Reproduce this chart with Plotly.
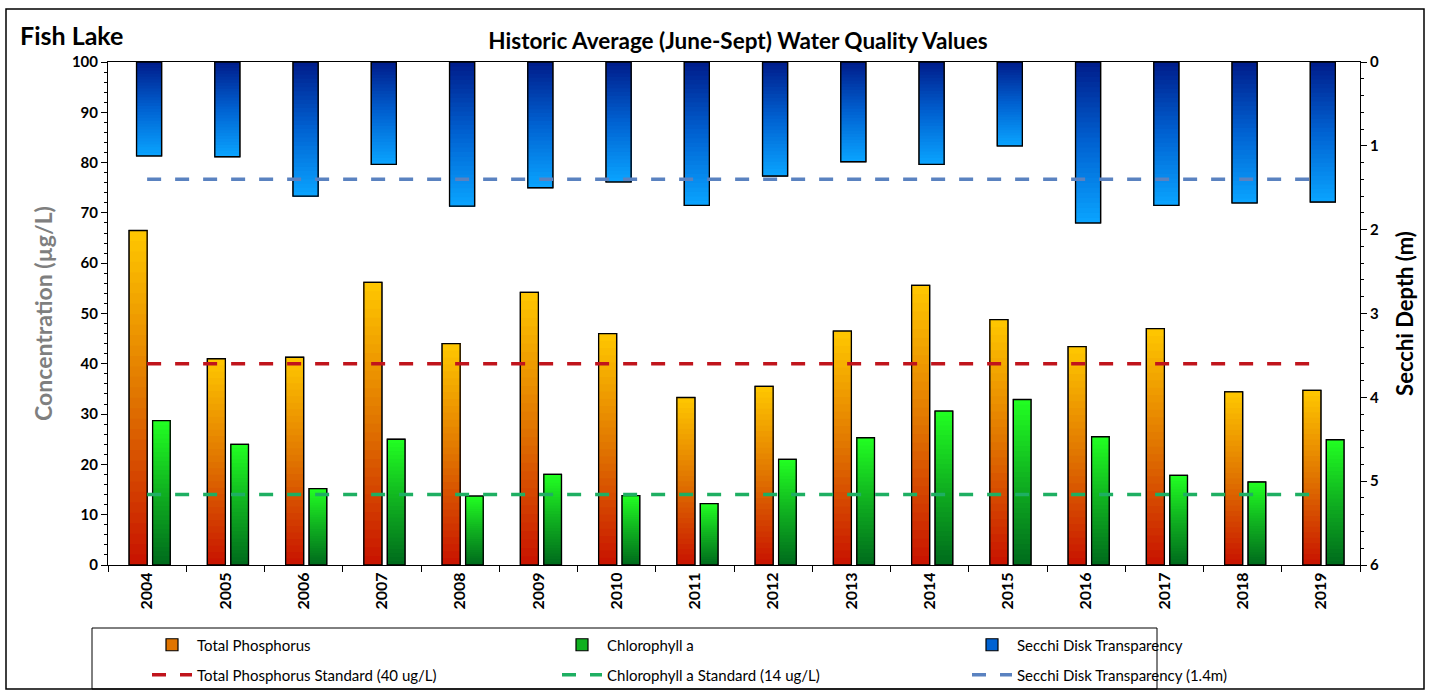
import plotly.graph_objects as go

years = [str(y) for y in range(2004, 2020)]
tp = [66.5, 41.0, 41.3, 56.2, 44.0, 54.2, 46.0, 33.3, 35.5, 46.5, 55.6, 48.8, 43.4, 47.0, 34.4, 34.7]
chla = [28.7, 24.0, 15.2, 25.0, 13.7, 18.0, 13.8, 12.2, 21.0, 25.3, 30.6, 32.9, 25.5, 17.8, 16.5, 24.9]
secchi = [1.12, 1.13, 1.60, 1.22, 1.72, 1.50, 1.43, 1.71, 1.36, 1.19, 1.22, 1.00, 1.92, 1.71, 1.68, 1.67]
tp_std = 40
chla_std = 14
secchi_std = 1.4

FONT = "Lato"
N = 32

def hex2rgb(h):
    h = h.lstrip('#')
    return [int(h[i:i+2], 16) for i in (0, 2, 4)]

def interp(stops, t):
    for (t0, c0), (t1, c1) in zip(stops[:-1], stops[1:]):
        if t0 <= t <= t1:
            a = (t - t0) / (t1 - t0) if t1 > t0 else 0
            r0, r1 = hex2rgb(c0), hex2rgb(c1)
            return 'rgb(%d,%d,%d)' % tuple(round(x + (y - x) * a) for x, y in zip(r0, r1))
    return stops[-1][1]

tp_stops = [(0, '#C81200'), (0.5, '#E07400'), (1, '#FFC800')]
chl_stops = [(0, '#006A1C'), (0.5, '#0FB020'), (1, '#22FF22')]
sec_stops = [(0, '#001C8A'), (0.5, '#0062D2'), (1, '#0AA4FF')]

fig = go.Figure()

def add_series(vals, stops, width, offset, yaxis, name):
    fig.add_trace(go.Bar(x=years, y=vals, width=width, offset=offset, yaxis=yaxis,
                         marker=dict(color=interp(stops, 0.5), line=dict(color='black', width=1.2)),
                         name=name, legend='legend', hoverinfo='skip'))
    for i in range(N):
        f = i / N
        base = [v * f for v in vals]
        yy = [v - b for v, b in zip(vals, base)]
        fig.add_trace(go.Bar(x=years, y=yy, base=base, width=width, offset=offset, yaxis=yaxis,
                             marker=dict(color=interp(stops, (i + 0.5) / N), line=dict(width=0)),
                             showlegend=False, hoverinfo='skip'))
    fig.add_trace(go.Bar(x=years, y=vals, width=width, offset=offset, yaxis=yaxis,
                         marker=dict(color='rgba(0,0,0,0)', line=dict(color='black', width=1.3)),
                         showlegend=False, hoverinfo='skip'))

add_series(tp, tp_stops, 0.23, -0.23, 'y', 'Total Phosphorus')
add_series(chla, chl_stops, 0.225, 0.07, 'y', 'Chlorophyll a')
add_series(secchi, sec_stops, 0.32, -0.135, 'y2', 'Secchi Disk Transparency')

fig.add_trace(go.Scatter(x=years, y=[tp_std] * len(years), mode='lines', yaxis='y',
                         line=dict(color='#C0141C', width=3.5, dash='14px,14px'),
                         name='Total Phosphorus Standard (40 ug/L)', legend='legend2', hoverinfo='skip'))
fig.add_trace(go.Scatter(x=years, y=[chla_std] * len(years), mode='lines', yaxis='y',
                         line=dict(color='#1EAF62', width=3.5, dash='14px,14px'),
                         name='Chlorophyll a Standard (14 ug/L)', legend='legend2', hoverinfo='skip'))
fig.add_trace(go.Scatter(x=years, y=[secchi_std] * len(years), mode='lines', yaxis='y2',
                         line=dict(color='#5A82C0', width=3.5, dash='14px,14px'),
                         name='Secchi Disk Transparency (1.4m)', legend='legend2', hoverinfo='skip'))

W, H = 1432, 692
L, R, T, B = 108, 72, 62, 127
pw, ph = W - L - R, H - T - B

def px(x):
    return (x - L) / pw

def py(y):
    return (H - B - y) / ph

tickfont = dict(family=FONT, size=15, color='black', weight='bold')
legfont = dict(family=FONT, size=15, color='black')

fig.update_layout(
    width=W, height=H,
    margin=dict(l=L, r=R, t=T, b=B, autoexpand=False),
    barmode='overlay',
    plot_bgcolor='white', paper_bgcolor='white',
    font=dict(family=FONT, color='black'),
    title=dict(text='Historic Average (June-Sept) Water Quality Values',
               x=px(738), xref='paper', xanchor='center', y=1 - 41 / H, yanchor='middle',
               font=dict(family=FONT, size=22.5, color='black', weight='bold')),
    xaxis=dict(type='category', range=[-0.5, 15.5], showline=True, linecolor='black', linewidth=1,
               mirror=True, ticks='outside', tickson='boundaries', ticklen=6, tickcolor='black',
               tickangle=-90, tickfont=dict(family=FONT, size=16, color='black', weight='bold'),
               showgrid=False),
    yaxis=dict(range=[0, 100], dtick=10, showline=True, linecolor='black', linewidth=1,
               ticks='outside', ticklen=6, tickcolor='black', showgrid=False, zeroline=False,
               minor=dict(dtick=2, ticks='outside', ticklen=3, tickcolor='black'),
               tickfont=tickfont,
               title=dict(text='Concentration (µg/L)', standoff=12,
                          font=dict(family=FONT, size=23, color='#7F7F7F', weight='bold'))),
    yaxis2=dict(range=[6, 0], dtick=1, overlaying='y', side='right', showline=True,
                linecolor='black', linewidth=1, ticks='outside', ticklen=6, tickcolor='black',
                showgrid=False, zeroline=False,
                minor=dict(dtick=0.2, ticks='outside', ticklen=3, tickcolor='black'),
                tickfont=tickfont,
                title=dict(text='Secchi Depth (m)', standoff=19,
                           font=dict(family=FONT, size=22, color='black', weight='bold'))),
    legend=dict(orientation='h', x=px(147), xanchor='left', y=py(645), yanchor='middle',
                entrywidth=355, traceorder='normal', bgcolor='rgba(0,0,0,0)',
                font=legfont, itemwidth=40),
    legend2=dict(orientation='h', x=px(147), xanchor='left', y=py(675), yanchor='middle',
                 entrywidth=355, traceorder='normal', bgcolor='rgba(0,0,0,0)',
                 font=legfont, itemwidth=40),
    showlegend=True,
)

fig.add_annotation(text='Fish Lake', xref='paper', yref='paper', x=px(18), y=py(35),
                   xanchor='left', yanchor='middle', showarrow=False,
                   font=dict(family=FONT, size=25, color='black', weight='bold'))

fig.add_shape(type='rect', xref='paper', yref='paper', x0=px(92), x1=px(1157), y0=py(689), y1=py(628),
              line=dict(color='black', width=1), fillcolor='rgba(0,0,0,0)', layer='below')
fig.add_shape(type='rect', xref='paper', yref='paper', x0=px(6), x1=px(1424), y0=py(689), y1=py(9),
              line=dict(color='black', width=1.5), fillcolor='rgba(0,0,0,0)', layer='below')

fig.write_html('out.html', config={'displayModeBar': False},
               post_script="document.body.style.margin='0';")
